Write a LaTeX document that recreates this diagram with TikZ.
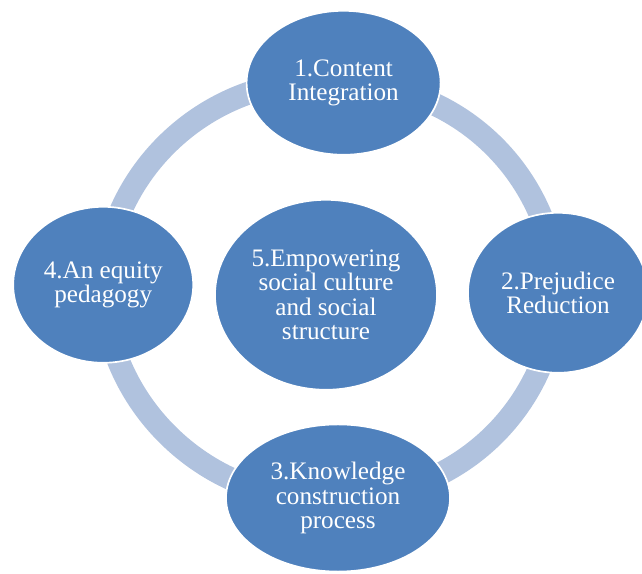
\documentclass[tikz,border=0pt]{standalone}
\usepackage{fontspec}
\setmainfont{Liberation Serif}
\usepackage{tikz}
\usetikzlibrary{shapes.geometric,backgrounds}
\definecolor{bubblefill}{HTML}{4F81BD}
\definecolor{ringfill}{HTML}{B0C2DE}

\begin{document}
\begin{tikzpicture}[x=1cm,y=1cm,
  font=\fontsize{17.9}{17.3}\selectfont,
  bubble/.style={ellipse, draw=white, line width=1.2pt, fill=bubblefill, text=white, align=center, inner sep=0pt},
  ring/.style={draw=ringfill, line width=0.57cm}]
\useasboundingbox (0,0) rectangle (16.05,14.35);
% ----- outer dimensions
\node[bubble, minimum width=4.85cm, minimum height=3.6cm] (cont) at (8.59,12.28) {1.Content\\Integration};
\node[bubble, minimum width=4.5cm, minimum height=4.0cm] (prej) at (13.95,7.03) {2.Prejudice\\Reduction};
\node[bubble, minimum width=5.6cm, minimum height=3.68cm] (know) at (8.45,1.9) {3.Knowledge\\construction\\process};
\node[bubble, minimum width=4.5cm, minimum height=3.9cm] (equi) at (2.58,7.23) {4.An equity\\pedagogy};
% ----- centre
\node[bubble, minimum width=5.55cm, minimum height=4.75cm] (empw) at (8.15,6.98) {5.Empowering\\social culture\\and social\\structure};
% ----- ring behind the bubbles
\begin{scope}[on background layer]
\foreach \a/\b/\bend in {cont/prej/43, prej/know/43, know/equi/47, equi/cont/47}
  \draw[ring] (\a.center) to[bend left=\bend] (\b.center);
\end{scope}
\end{tikzpicture}
\end{document}
